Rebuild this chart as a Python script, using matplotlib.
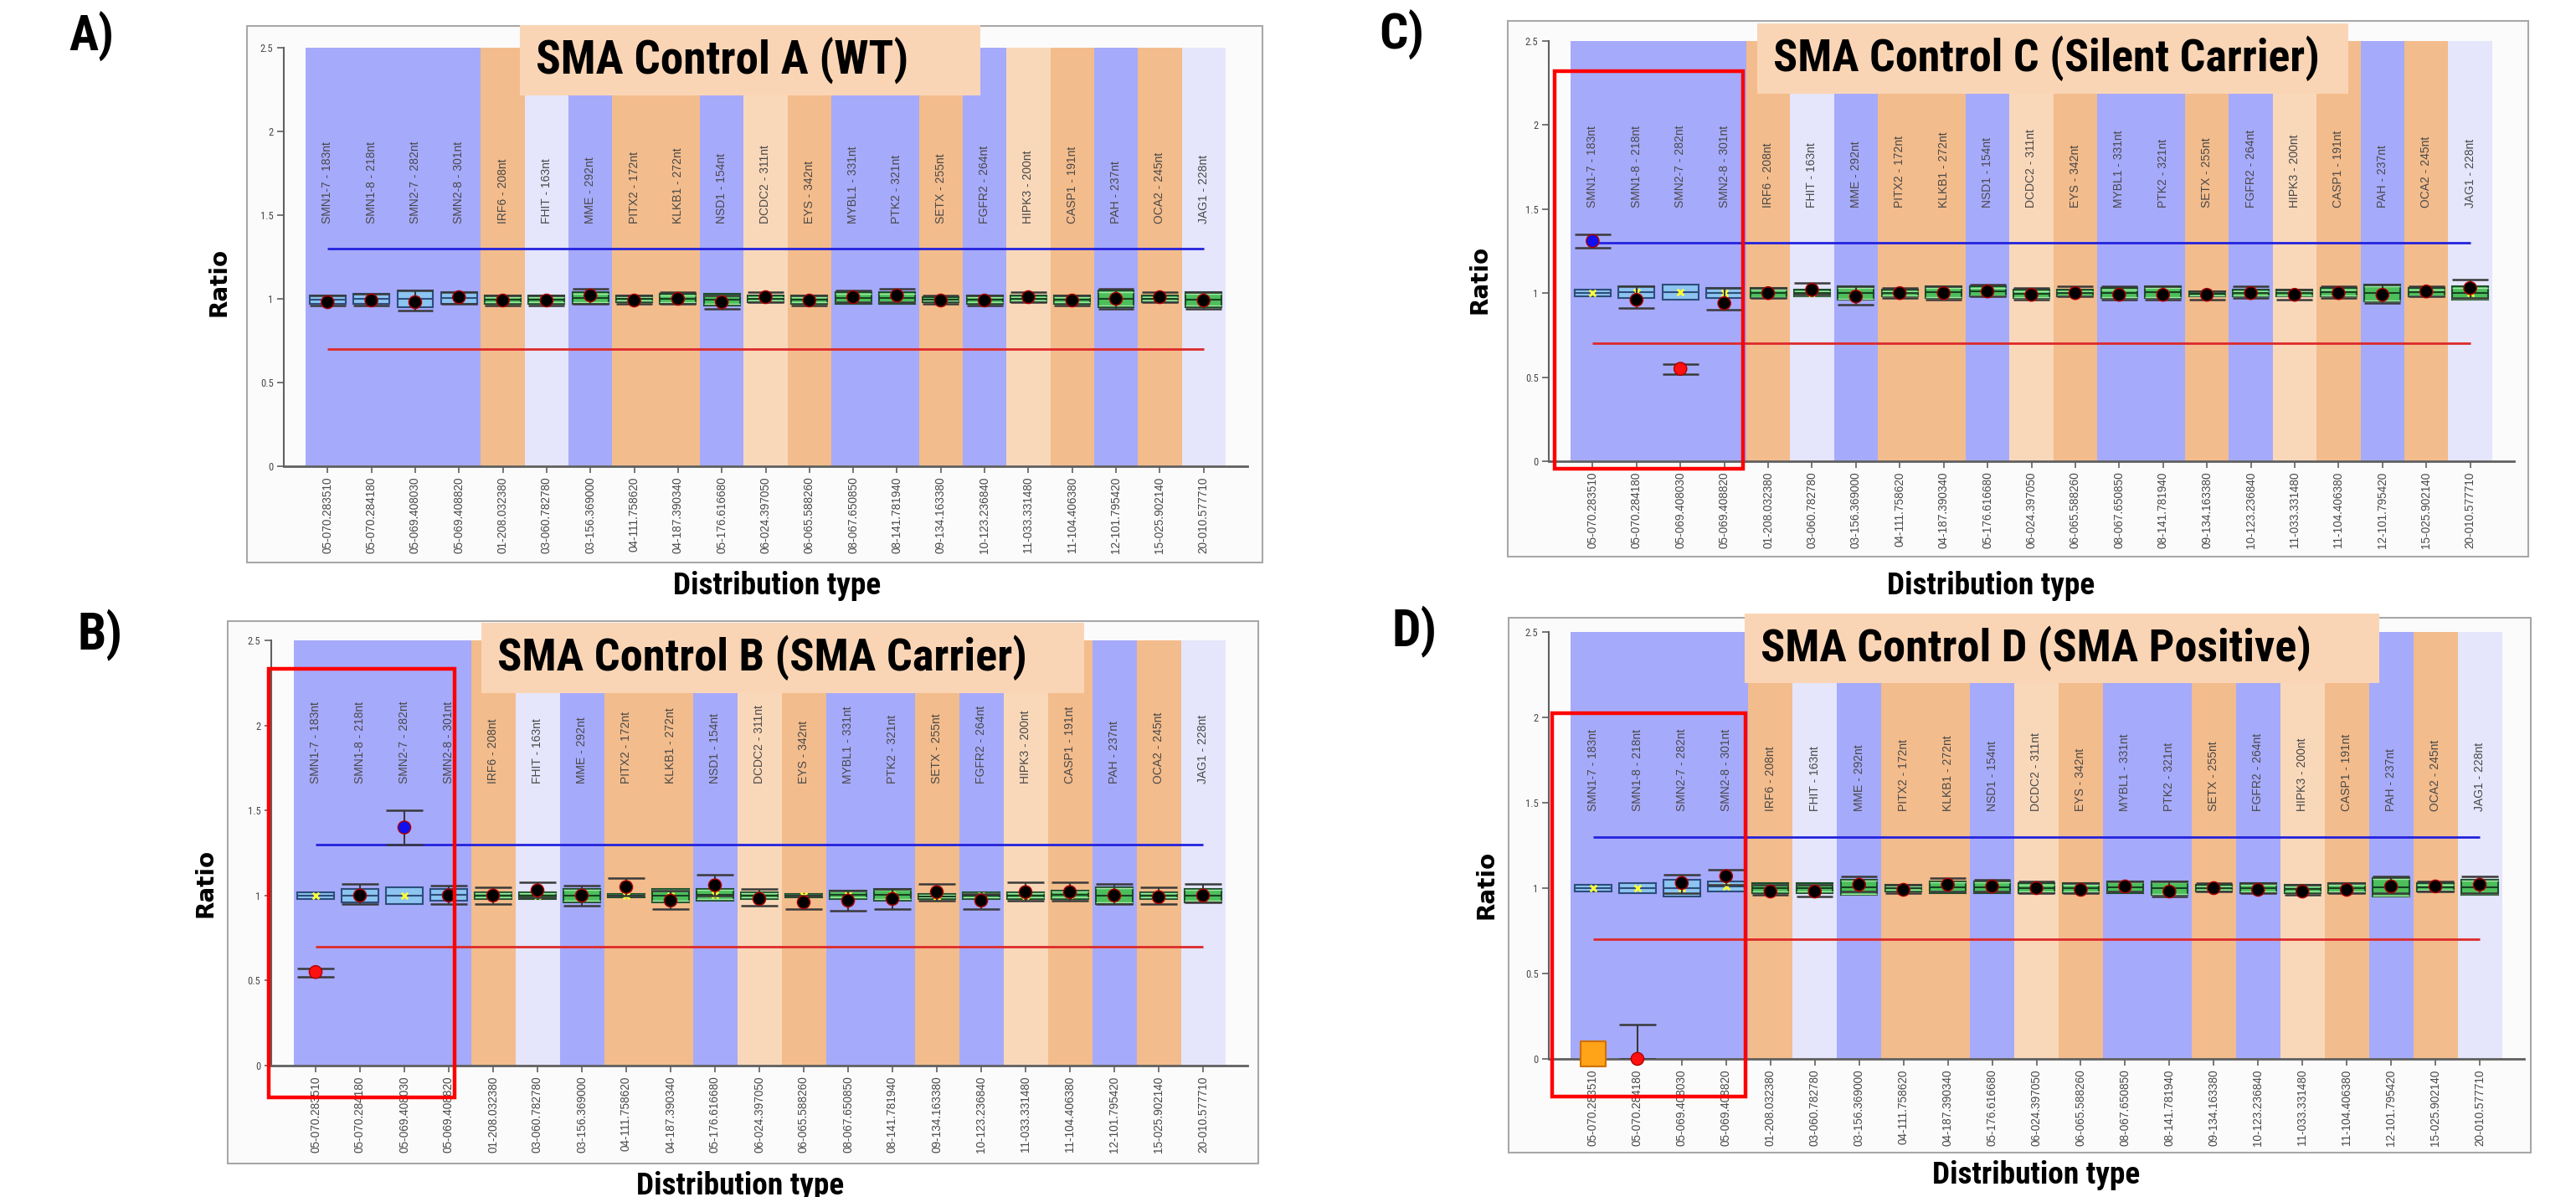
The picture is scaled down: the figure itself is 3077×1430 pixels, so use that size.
import numpy as np
import matplotlib.pyplot as plt
from matplotlib.patches import Rectangle

W, H = 3077, 1430
NARROW = ['Liberation Sans Narrow', 'Roboto Condensed', 'Lato', 'DejaVu Sans']

# probe names (top labels) and chromosome positions (x tick labels)
probes = ["SMN1-7 - 183nt", "SMN1-8 - 218nt", "SMN2-7 - 282nt", "SMN2-8 - 301nt",
          "IRF6 - 208nt", "FHIT - 163nt", "MME - 292nt", "PITX2 - 172nt", "KLKB1 - 272nt",
          "NSD1 - 154nt", "DCDC2 - 311nt", "EYS - 342nt", "MYBL1 - 331nt", "PTK2 - 321nt",
          "SETX - 255nt", "FGFR2 - 264nt", "HIPK3 - 200nt", "CASP1 - 191nt", "PAH - 237nt",
          "OCA2 - 245nt", "JAG1 - 228nt"]
positions = ["05-070.283510", "05-070.284180", "05-069.408030", "05-069.408820",
             "01-208.032380", "03-060.782780", "03-156.369000", "04-111.758620",
             "04-187.390340", "05-176.616680", "06-024.397050", "06-065.588260",
             "08-067.650850", "08-141.781940", "09-134.163380", "10-123.236840",
             "11-033.331480", "11-104.406380", "12-101.795420", "15-025.902140",
             "20-010.577710"]
band_type = ["b", "b", "b", "b", "o", "l", "b", "o", "o", "b", "p", "o", "b", "b",
             "o", "b", "p", "o", "b", "o", "l"]
upper_limit = 1.3
lower_limit = 0.7

# panel A - SMA Control A (WT)
a_ratio = [0.98, 0.99, 0.98, 1.01, 0.99, 0.99, 1.02, 0.99, 1.00, 0.98, 1.01, 0.99, 1.01, 1.02,
           0.99, 0.99, 1.01, 0.99, 1.00, 1.01, 0.99]
a_lo = [0.96, 0.96, 0.93, 0.97, 0.96, 0.96, 0.97, 0.97, 0.97, 0.94, 0.98, 0.96, 0.98, 0.98,
        0.97, 0.96, 0.98, 0.96, 0.94, 0.98, 0.94]
a_hi = [1.02, 1.03, 1.05, 1.04, 1.02, 1.02, 1.06, 1.02, 1.04, 1.02, 1.04, 1.02, 1.05, 1.06,
        1.02, 1.02, 1.04, 1.02, 1.06, 1.04, 1.04]
a_q1 = [0.97, 0.97, 0.95, 0.97, 0.97, 0.97, 0.97, 0.98, 0.97, 0.96, 0.98, 0.97, 0.97, 0.97,
        0.98, 0.97, 0.98, 0.97, 0.95, 0.98, 0.95]
a_q3 = [1.02, 1.03, 1.05, 1.04, 1.02, 1.02, 1.04, 1.02, 1.03, 1.03, 1.02, 1.02, 1.04, 1.04,
        1.01, 1.02, 1.02, 1.02, 1.05, 1.02, 1.04]

# panel B - SMA Control B (SMA Carrier)
b_ratio = [0.55, 1.00, 1.40, 1.00, 1.00, 1.03, 1.00, 1.05, 0.97, 1.06, 0.98, 0.96, 0.97, 0.98,
           1.02, 0.97, 1.02, 1.02, 1.00, 0.99, 1.00]
b_lo = [0.52, 0.95, 1.30, 0.95, 0.95, 0.99, 0.94, 1.00, 0.92, 1.00, 0.94, 0.92, 0.91, 0.92,
        0.97, 0.92, 0.97, 0.97, 0.95, 0.95, 0.96]
b_hi = [0.57, 1.07, 1.50, 1.06, 1.05, 1.08, 1.06, 1.10, 1.03, 1.12, 1.04, 1.00, 1.03, 1.04,
        1.07, 1.01, 1.08, 1.08, 1.07, 1.05, 1.07]
b_q1 = [0.98, 0.96, 0.95, 0.97, 0.98, 0.98, 0.96, 0.99, 0.96, 0.97, 0.98, 0.99, 0.98, 0.97,
        0.98, 0.98, 0.98, 0.98, 0.95, 0.98, 0.96]
b_q3 = [1.02, 1.04, 1.05, 1.04, 1.02, 1.02, 1.04, 1.01, 1.04, 1.04, 1.02, 1.01, 1.03, 1.04,
        1.01, 1.02, 1.02, 1.03, 1.05, 1.02, 1.04]

# panel C - SMA Control C (Silent Carrier)
c_ratio = [1.31, 0.96, 0.55, 0.94, 1.00, 1.02, 0.98, 1.00, 1.00, 1.01, 0.99, 1.00, 0.99, 0.99,
           0.99, 1.00, 0.99, 1.00, 0.99, 1.01, 1.03]
c_lo = [1.27, 0.91, 0.52, 0.90, 0.97, 0.99, 0.93, 0.97, 0.96, 0.98, 0.96, 0.98, 0.96, 0.96,
        0.96, 0.97, 0.96, 0.97, 0.94, 0.98, 0.97]
c_hi = [1.35, 1.04, 0.58, 1.03, 1.03, 1.06, 1.04, 1.03, 1.04, 1.05, 1.03, 1.04, 1.04, 1.04,
        1.01, 1.04, 1.02, 1.04, 1.05, 1.04, 1.08]
c_q1 = [0.98, 0.97, 0.96, 0.97, 0.97, 0.98, 0.96, 0.98, 0.97, 0.98, 0.97, 0.98, 0.97, 0.97,
        0.98, 0.98, 0.98, 0.98, 0.95, 0.98, 0.96]
c_q3 = [1.02, 1.04, 1.05, 1.03, 1.03, 1.02, 1.04, 1.02, 1.04, 1.04, 1.02, 1.02, 1.03, 1.04,
        1.01, 1.02, 1.02, 1.03, 1.05, 1.03, 1.04]

# panel D - SMA Control D (SMA Positive); SMN1-7 has no signal (orange square)
d_ratio = [0.03, 0.00, 1.03, 1.07, 0.98, 0.98, 1.02, 0.99, 1.02, 1.01, 1.00, 0.99, 1.01, 0.98,
           1.00, 0.99, 0.98, 0.99, 1.01, 1.01, 1.02]
d_lo = [np.nan, 0.00, 0.97, 1.02, 0.96, 0.95, 0.98, 0.97, 0.98, 0.98, 0.97, 0.97, 0.98, 0.95,
        0.98, 0.97, 0.96, 0.97, 0.97, 0.98, 0.97]
d_hi = [np.nan, 0.20, 1.08, 1.11, 1.02, 1.02, 1.07, 1.02, 1.06, 1.05, 1.04, 1.03, 1.04, 1.04,
        1.03, 1.03, 1.02, 1.03, 1.07, 1.04, 1.07]
d_q1 = [0.98, 0.97, 0.95, 0.98, 0.97, 0.97, 0.96, 0.98, 0.97, 0.97, 0.97, 0.97, 0.97, 0.96,
        0.98, 0.97, 0.97, 0.97, 0.95, 0.98, 0.96]
d_q3 = [1.02, 1.03, 1.05, 1.04, 1.03, 1.03, 1.05, 1.02, 1.04, 1.04, 1.03, 1.03, 1.04, 1.04,
        1.02, 1.03, 1.02, 1.03, 1.06, 1.03, 1.05]
d_no_signal = [0]

band_colors = {"b": "#a6aafb", "o": "#f3bc8c", "l": "#e5e5fb", "p": "#f9d8ba"}


def fx(px):
    return px / W


def fy(py):
    return 1 - py / H


def frect(x0, y0, x1, y1, **kw):
    return Rectangle((fx(x0), fy(y1)), fx(x1) - fx(x0), fy(y0) - fy(y1),
                     transform=fig.transFigure, **kw)


fig = plt.figure(figsize=(W / 100, H / 100), dpi=100)
fig.patch.set_facecolor("white")
renderer = fig.canvas.get_renderer()


def fit_width(t, target_px):
    # scale font size so the text spans the width measured on the reference
    w = t.get_window_extent(renderer=renderer).width
    t.set_fontsize(t.get_fontsize() * target_px / w)


def draw_panel(letter, title, ratio, lo, hi, q1, q3, lay, yellow=True, no_signal=()):
    ratio, lo, hi = np.array(ratio), np.array(lo), np.array(hi)
    q1, q3 = np.array(q1), np.array(q3)
    x = np.arange(len(probes))

    # outer chart frame
    fig.add_artist(frect(*lay["frame"], facecolor="#fbfbfb", edgecolor="#a8a8a8",
                         linewidth=1.5, zorder=-5))

    L, R, y0, y25 = lay["axes"]
    ax = fig.add_axes([fx(L), fy(y0), fx(R) - fx(L), fy(y25) - fy(y0)])
    ax.set_facecolor("none")
    ax.set_xlim(-1.0, 21.0)
    ax.set_ylim(0, 2.5)

    # coloured probe bands
    ax.bar(x, 2.5, width=1.0, color=[band_colors[t] for t in band_type], zorder=0)

    # limit lines
    ax.hlines(upper_limit, x[0], x[-1], color="#2222dd", lw=2, zorder=2)
    ax.hlines(lower_limit, x[0], x[-1], color="#dd2a2a", lw=2, zorder=2)

    # reference boxes
    smn = x < 4
    fills = np.where(smn, "#8cc4f2", "#4cbf5c")
    edges = np.where(smn, "#2d4d7a", "#1c4d2a")
    ax.bar(x, q3 - q1, bottom=q1, width=0.82, color=fills, edgecolor=edges,
           linewidth=1.5, zorder=3)
    mid = (q1 + q3) / 2
    ax.hlines(q1[~smn] + 0.008, x[~smn] - 0.41, x[~smn] + 0.41, color="#a4e8a6", lw=1,
              zorder=4)
    ax.hlines(q3[~smn] - 0.008, x[~smn] - 0.41, x[~smn] + 0.41, color="#a4e8a6", lw=1,
              zorder=4)
    ax.hlines(mid, x - 0.41, x + 0.41, color=np.where(smn, "#2d4d7a", "#174020"),
              lw=1.5, zorder=4)

    if yellow:
        ax.scatter(x, mid, marker="x", s=30, color="#ffff33", linewidths=2, zorder=5)

    # sample error bars
    ok = ~np.isnan(lo)
    ax.vlines(x[ok], lo[ok], hi[ok], color="#3a3a3a", lw=1.5, zorder=6)
    ax.hlines(lo[ok], x[ok] - 0.41, x[ok] + 0.41, color="#3a3a3a", lw=1.8, zorder=6)
    ax.hlines(hi[ok], x[ok] - 0.41, x[ok] + 0.41, color="#3a3a3a", lw=1.8, zorder=6)

    # sample ratio dots
    dot_col = np.where(ratio > upper_limit, "#1010ee",
                       np.where(ratio < lower_limit, "#ff1010", "#000000"))
    keep = np.array([i not in no_signal for i in x])
    ax.scatter(x[keep], ratio[keep], s=120, c=dot_col[keep], edgecolors="#b00000",
               linewidths=1, zorder=7, clip_on=False)
    if len(no_signal):
        ns = np.array(no_signal)
        ax.scatter(x[ns], ratio[ns], s=480, marker="s", color="#ffa319",
                   edgecolors="#d07000", linewidths=1.5, zorder=7, clip_on=False)

    # probe labels
    for i, p in enumerate(probes):
        ax.text(i, lay["label_y"], p, rotation=90, ha="center", va="bottom",
                fontsize=10, color="#484848", family="Liberation Sans", zorder=8)

    # axes styling
    for s in ["top", "right"]:
        ax.spines[s].set_visible(False)
    ax.spines["left"].set_color("#606060")
    ax.spines["bottom"].set_color("#606060")
    ax.spines["left"].set_linewidth(1.5)
    ax.spines["bottom"].set_linewidth(2)
    ax.set_xticks(x)
    ax.set_xticklabels(positions, rotation=90, fontsize=9.8, color="#484848",
                       family="Liberation Sans")
    ax.set_yticks([0, 0.5, 1, 1.5, 2, 2.5])
    ax.set_yticklabels(["0", "0.5", "1", "1.5", "2", "2.5"], fontsize=9, color="#484848",
                       family=NARROW)
    ax.tick_params(axis="both", length=6, width=1.2, color="#606060", pad=3)

    # title box
    tx0, ty0, tx1, ty1 = lay["title"]
    fig.add_artist(frect(tx0, ty0, tx1, ty1, facecolor="#fad5b5", edgecolor="none",
                         zorder=10))
    t = fig.text(fx(tx0 + 19), fy((ty0 + ty1) / 2), title, ha="left", va="center",
                 fontsize=33, fontweight="bold", family=NARROW, zorder=11)
    fit_width(t, lay["title_w"])

    # red highlight of the SMN probes
    if "highlight" in lay:
        fig.add_artist(frect(*lay["highlight"], facecolor="none", edgecolor="#ff0000",
                             linewidth=3.2, zorder=12))

    lx, ly = lay["letter"]
    t = fig.text(fx(lx), fy(ly), letter, ha="left", va="top", fontsize=44,
                 fontweight="bold", family=NARROW)
    fit_width(t, 54)
    rx, ry = lay["ratio"]
    fig.text(fx(rx), fy(ry), "Ratio", rotation=90, ha="center", va="center",
             fontsize=20, fontweight="bold", family="DejaVu Sans")
    dx, dy = lay["dist"]
    t = fig.text(fx(dx), fy(dy), "Distribution type", ha="center", va="center",
                 fontsize=23, fontweight="bold", family=NARROW)
    fit_width(t, 250)


draw_panel("A)", "SMA Control A (WT)", a_ratio, a_lo, a_hi, a_q1, a_q3,
           dict(frame=(295, 31, 1508, 672), axes=(339, 1490, 557, 57),
                title=(621, 30, 1171, 114), title_w=445, letter=(82, 14),
                ratio=(262, 337), dist=(928, 700), label_y=1.45),
           yellow=False)
draw_panel("B)", "SMA Control B (SMA Carrier)", b_ratio, b_lo, b_hi, b_q1, b_q3,
           dict(frame=(272, 742, 1503, 1390), axes=(324, 1490, 1273, 765),
                title=(575, 744, 1295, 828), title_w=632, letter=(92, 728),
                ratio=(246, 1055), dist=(884, 1417), label_y=1.66,
                highlight=(321, 799, 543, 1311)))
draw_panel("C)", "SMA Control C (Silent Carrier)", c_ratio, c_lo, c_hi, c_q1, c_q3,
           dict(frame=(1801, 25, 3020, 665), axes=(1850, 3003, 551, 49),
                title=(2099, 28, 2805, 112), title_w=652, letter=(1647, 12),
                ratio=(1767, 334), dist=(2378, 700), label_y=1.51,
                highlight=(1857, 85, 2082, 560)))
draw_panel("D)", "SMA Control D (SMA Positive)", d_ratio, d_lo, d_hi, d_q1, d_q3,
           dict(frame=(1802, 738, 3023, 1377), axes=(1850, 3015, 1265, 755),
                title=(2084, 733, 2842, 816), title_w=659, letter=(1662, 724),
                ratio=(1775, 1057), dist=(2432, 1404), label_y=1.45,
                highlight=(1854, 852, 2085, 1310)),
           no_signal=d_no_signal)

fig.savefig("out.png", dpi=100)
